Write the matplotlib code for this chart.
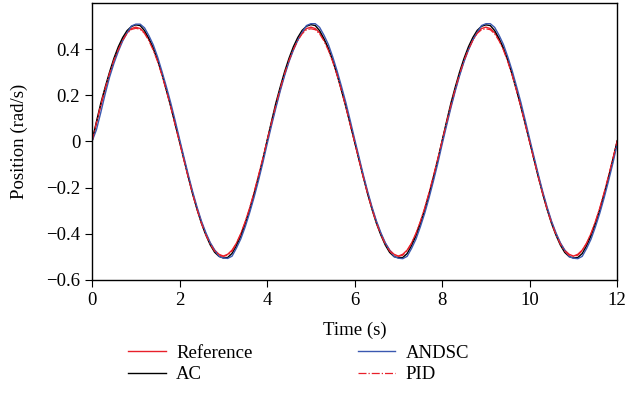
import matplotlib.pyplot as plt
import numpy as np

# sample times (s), 0.1 s steps
time = np.round(np.arange(0, 12.0001, 0.1), 1)

# values, one row per 4 s period
reference = [
    0, 0.077, 0.153, 0.225, 0.291, 0.350, 0.400, 0.441, 0.471, 0.489,
    0.495, 0.489, 0.471, 0.441, 0.400, 0.350, 0.291, 0.225, 0.153, 0.077,
    0, -0.077, -0.153, -0.225, -0.291, -0.350, -0.400, -0.441, -0.471, -0.489,
    -0.497, -0.489, -0.471, -0.441, -0.400, -0.350, -0.291, -0.225, -0.153, -0.077,
    0, 0.077, 0.153, 0.225, 0.291, 0.350, 0.400, 0.441, 0.471, 0.489,
    0.495, 0.489, 0.471, 0.441, 0.400, 0.350, 0.291, 0.225, 0.153, 0.077,
    0, -0.077, -0.153, -0.225, -0.291, -0.350, -0.400, -0.441, -0.471, -0.489,
    -0.497, -0.489, -0.471, -0.441, -0.400, -0.350, -0.291, -0.225, -0.153, -0.077,
    0, 0.077, 0.153, 0.225, 0.291, 0.350, 0.400, 0.441, 0.471, 0.489,
    0.495, 0.489, 0.471, 0.441, 0.400, 0.350, 0.291, 0.225, 0.153, 0.077,
    0, -0.077, -0.153, -0.225, -0.291, -0.350, -0.400, -0.441, -0.471, -0.489,
    -0.497, -0.489, -0.471, -0.441, -0.400, -0.350, -0.291, -0.225, -0.153, -0.077,
    0]
ac = [
    0, 0.085, 0.165, 0.235, 0.300, 0.360, 0.410, 0.450, 0.480, 0.498,
    0.505, 0.502, 0.480, 0.446, 0.405, 0.352, 0.290, 0.222, 0.150, 0.075,
    0, -0.078, -0.155, -0.228, -0.295, -0.355, -0.405, -0.448, -0.480, -0.498,
    -0.505, -0.503, -0.485, -0.452, -0.410, -0.358, -0.300, -0.232, -0.160, -0.082,
    0.004, 0.086, 0.166, 0.236, 0.302, 0.360, 0.410, 0.450, 0.481, 0.499,
    0.506, 0.502, 0.480, 0.445, 0.404, 0.351, 0.289, 0.221, 0.150, 0.074,
    -0.002, -0.079, -0.156, -0.229, -0.296, -0.356, -0.406, -0.449, -0.481, -0.499,
    -0.504, -0.503, -0.486, -0.452, -0.410, -0.358, -0.300, -0.232, -0.159, -0.081,
    0.004, 0.086, 0.166, 0.236, 0.302, 0.360, 0.410, 0.450, 0.481, 0.499,
    0.505, 0.502, 0.480, 0.446, 0.405, 0.352, 0.290, 0.222, 0.150, 0.075,
    -0.002, -0.079, -0.156, -0.229, -0.296, -0.356, -0.406, -0.449, -0.481, -0.499,
    -0.505, -0.503, -0.486, -0.452, -0.410, -0.358, -0.300, -0.232, -0.159, -0.081,
    0.003]
andsc = [
    0, 0.050, 0.125, 0.205, 0.278, 0.338, 0.390, 0.435, 0.470, 0.500,
    0.508, 0.508, 0.492, 0.458, 0.418, 0.365, 0.302, 0.236, 0.166, 0.090,
    0.010, -0.068, -0.145, -0.218, -0.285, -0.345, -0.395, -0.438, -0.470, -0.498,
    -0.505, -0.507, -0.497, -0.462, -0.422, -0.370, -0.310, -0.244, -0.172, -0.095,
    -0.012, 0.068, 0.145, 0.218, 0.285, 0.345, 0.395, 0.438, 0.472, 0.502,
    0.510, 0.510, 0.494, 0.460, 0.420, 0.366, 0.305, 0.238, 0.168, 0.090,
    0.010, -0.068, -0.146, -0.219, -0.286, -0.346, -0.396, -0.439, -0.471, -0.499,
    -0.506, -0.508, -0.498, -0.464, -0.424, -0.371, -0.312, -0.245, -0.172, -0.095,
    -0.012, 0.068, 0.146, 0.219, 0.286, 0.346, 0.396, 0.439, 0.472, 0.502,
    0.510, 0.510, 0.494, 0.460, 0.420, 0.366, 0.306, 0.238, 0.168, 0.090,
    0.010, -0.068, -0.146, -0.219, -0.286, -0.346, -0.396, -0.439, -0.471, -0.499,
    -0.506, -0.508, -0.498, -0.464, -0.424, -0.371, -0.312, -0.245, -0.172, -0.095,
    -0.010]
pid = [
    0, 0.082, 0.160, 0.230, 0.295, 0.352, 0.398, 0.438, 0.468, 0.485,
    0.490, 0.486, 0.468, 0.436, 0.395, 0.345, 0.285, 0.218, 0.148, 0.070,
    -0.005, -0.082, -0.158, -0.230, -0.295, -0.355, -0.405, -0.445, -0.475, -0.493,
    -0.498, -0.493, -0.475, -0.442, -0.400, -0.348, -0.290, -0.222, -0.150, -0.075,
    0.004, 0.082, 0.158, 0.229, 0.294, 0.351, 0.398, 0.437, 0.466, 0.484,
    0.488, 0.484, 0.466, 0.435, 0.395, 0.345, 0.286, 0.219, 0.148, 0.071,
    -0.004, -0.082, -0.158, -0.230, -0.296, -0.355, -0.404, -0.445, -0.475, -0.493,
    -0.498, -0.493, -0.474, -0.442, -0.400, -0.348, -0.290, -0.222, -0.150, -0.075,
    0.004, 0.082, 0.158, 0.229, 0.294, 0.351, 0.398, 0.437, 0.468, 0.484,
    0.488, 0.484, 0.466, 0.436, 0.396, 0.345, 0.286, 0.219, 0.148, 0.071,
    -0.004, -0.082, -0.158, -0.230, -0.296, -0.355, -0.404, -0.445, -0.475, -0.493,
    -0.498, -0.493, -0.474, -0.442, -0.400, -0.348, -0.290, -0.222, -0.150, -0.075,
    0.003]

x_ticks = [0, 2, 4, 6, 8, 10, 12]
y_ticks = [-0.6, -0.4, -0.2, 0, 0.2, 0.4]
y_ticklabels = ['\u22120.6', '\u22120.4', '\u22120.2', '0', '0.2', '0.4']

plt.rcParams['font.family'] = ['Liberation Serif', 'DejaVu Serif']
plt.rcParams['font.size'] = 13.5

fig = plt.figure(figsize=(6.26, 4.19), dpi=100)
ax = fig.add_axes([0.147, 0.332, 0.839, 0.661])

ax.plot(time, reference, color='#e8202a', linewidth=1.0, label='Reference')
ax.plot(time, ac, color='black', linewidth=1.0, label='AC')
ax.plot(time, andsc, color='#3a58b0', linewidth=1.0, label='ANDSC')
ax.plot(time, pid, color='#e8202a', linewidth=0.9, linestyle='-.', label='PID')

ax.set_xlim(0, 12)
ax.set_ylim(-0.6, 0.6)
ax.set_xticks(x_ticks)
ax.set_yticks(y_ticks)
ax.set_yticklabels(y_ticklabels)
ax.tick_params(direction='out', length=5, width=0.8)
for s in ax.spines.values():
    s.set_linewidth(1.0)

ax.set_xlabel('Time (s)', labelpad=9)
ax.set_ylabel('Position (rad/s)', labelpad=13)

fig.legend(loc='upper left', bbox_to_anchor=(0.193, 0.196), ncol=2, frameon=False,
           handlelength=2.0, handletextpad=0.55, columnspacing=5.6,
           labelspacing=0.25, borderaxespad=0)

fig.savefig('out.png', dpi=100)
